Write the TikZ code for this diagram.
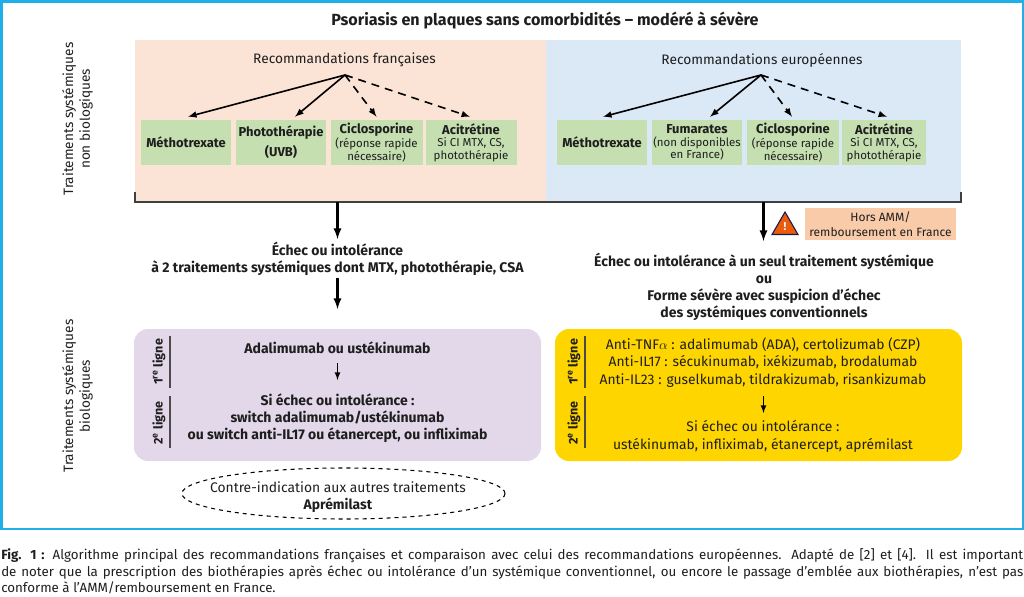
\documentclass[tikz,border=0pt]{standalone}
\usepackage{fontspec}
\setmainfont{Fira Sans}
\usetikzlibrary{shapes.geometric}
\definecolor{framec}{HTML}{1FB0EA}
\definecolor{panelfr}{HTML}{FBE3D5}
\definecolor{paneleu}{HTML}{DBE8F5}
\definecolor{greenb}{HTML}{C5DFB1}
\definecolor{horsc}{HTML}{F9CBA9}
\definecolor{lilac}{HTML}{E3D8EA}
\definecolor{yellowb}{HTML}{FFD500}
\definecolor{warnc}{HTML}{EA5B0C}
\definecolor{textc}{HTML}{1E1E1E}
\newcommand{\drugname}[1]{{\fontsize{9.7}{11}\selectfont\bfseries #1}}
\begin{document}
\begin{tikzpicture}[x=0.75pt,y=-0.75pt,text=textc]
	\def \px {0.75pt}
	\tikzstyle{panel} = [ inner sep=0, minimum height=161*\px];
	\tikzstyle{drug} = [ fill=greenb, inner sep=0, minimum height=45*\px, align=center, font={\fontsize{8.6}{9.4}\selectfont}];
	\tikzstyle{reco} = [ font={\fontsize{10.3}{12}\selectfont}];
	\tikzstyle{side} = [ rotate=90, align=center, font={\fontsize{10.2}{12.4}\selectfont}];
	\tikzstyle{rule} = [ rotate=90, font={\fontsize{9.4}{11}\selectfont\bfseries}];
	\tikzstyle{verdict} = [ align=center, font={\fontsize{10.5}{12.9}\selectfont\bfseries}];
	\tikzstyle{line} = [ fill, rounded corners=14*\px, inner sep=0, minimum height=132*\px];
	\tikzstyle{body} = [ align=center, font={\fontsize{10.4}{12.9}\selectfont}];
	\tikzstyle{big} = [ ->, >=latex, line width=1.7pt];
	\tikzstyle{small} = [ ->, >=latex, line width=1pt];
	\tikzstyle{fan} = [ ->, >=latex, line width=1.2pt];
	\tikzstyle{fandash} = [ fan, dash pattern=on 6pt off 4.5pt];

	\useasboundingbox (0,0) rectangle (1024,596);
	\draw[framec, line width=1.5pt] (1.5,1.5) rectangle (1022.5,529);

	\node[font={\fontsize{12.1}{14}\selectfont\bfseries}] (title) at (545,21) {Psoriasis en plaques sans comorbidités – modéré à sévère};

	\node[panel, fill=panelfr, minimum width=411*\px] (panelFr) at (340.5,120.5) {};
	\node[panel, fill=paneleu, minimum width=415*\px] (panelEu) at (753.5,120.5) {};

	\node[side] (sideA) at (77.5,119) {Traitements systémiques\\non biologiques};
	\node[side] (sideB) at (77.5,396) {Traitements systémiques\\biologiques};

	\node[reco] (recoFr) at (344.5,60) {Recommandations françaises};
	\node[reco] (recoEu) at (762,60) {Recommandations européennes};
	\coordinate (srcFr) at (345,75);
	\coordinate (srcEu) at (761,75);

	\node[drug, minimum width=90*\px] (drugFr1) at (186,142.5) {\drugname{Méthotrexate}};
	\node[drug, minimum width=90*\px] (drugFr2) at (281,142.5) {\drugname{Photothérapie}\\[3.4pt]\drugname{(UVB)}};
	\node[drug, minimum width=92*\px] (drugFr3) at (376.5,142.5) {\drugname{Ciclosporine}\\(réponse rapide\\nécessaire)};
	\node[drug, minimum width=91*\px] (drugFr4) at (471,142.5) {\drugname{Acitrétine}\\Si CI MTX, CS,\\photothérapie};
	\node[drug, minimum width=90*\px] (drugEu1) at (602,142.5) {\drugname{Méthotrexate}};
	\node[drug, minimum width=90*\px] (drugEu2) at (697,142.5) {\drugname{Fumarates}\\(non disponibles\\en France)};
	\node[drug, minimum width=92*\px] (drugEu3) at (793,142.5) {\drugname{Ciclosporine}\\(réponse rapide\\nécessaire)};
	\node[drug, minimum width=84*\px] (drugEu4) at (884,142.5) {\drugname{Acitrétine}\\Si CI MTX, CS,\\photothérapie};

	\foreach \zone/\i/\dx/\kind in {Fr/1/2/fan, Fr/2/14/fan, Fr/3/0/fandash, Fr/4/-1/fandash, Eu/1/1/fan, Eu/2/13/fan, Eu/3/-1/fandash, Eu/4/3/fandash} {
		\draw[\kind] (src\zone) -- ([xshift=\dx*\px, yshift=3*\px]drug\zone\i.north);
	}

	% accolade sous les deux panneaux
	\coordinate (brA) at (135,192);
	\coordinate (brB) at (961,192);
	\coordinate (brC) at (961,202);
	\draw[line width=1.1pt, textc!85] (brA) |- (brC) -- (brB);
	\coordinate (stemFr) at (337.5,201.5);
	\coordinate (stemEu) at (763.5,201.5);

	\node[verdict] (failFr) at (337.5,258.5) {Échec ou intolérance\\à 2 traitements systémiques dont MTX, photothérapie, CSA};
	\node[verdict] (failEu) at (764,287) {Échec ou intolérance à un seul traitement systémique\\ou\\Forme sévère avec suspicion d’échec\\des systémiques conventionnels};
	\coordinate (endFr) at (337.5,239);
	\coordinate (endEu) at (763.5,241);
	\draw[big] (stemFr) -- (endFr);
	\draw[big] (stemEu) -- (endEu);

	\node[regular polygon, regular polygon sides=3, draw=textc!80!blue, fill=warnc, line width=0.8pt, inner sep=0, minimum size=30*\px] (warn) at (785,227) {};
	\node[text=white, font={\fontsize{8.5}{8}\selectfont\bfseries}] (warnMark) at (785,227) {!};
	\node[fill=horsc, minimum width=151*\px, minimum height=32*\px, inner sep=0, align=center, font={\fontsize{9}{11.2}\selectfont}] (hors) at (880.5,224) {Hors AMM/\\remboursement en France};

	\node[line, fill=lilac, minimum width=407*\px] (lineFr) at (337.5,395) {};
	\node[line, fill=yellowb, minimum width=407*\px] (lineEu) at (758.5,395) {};
	\coordinate (startFr) at (337.5,278);
	\coordinate (stopFr) at (337.5,309);
	\draw[big] (startFr) -- (stopFr);

	\node[rule] (lignesFrA) at (159,362) {1\textsuperscript{re} ligne};
	\node[rule] (lignesFrB) at (159,423) {2\textsuperscript{e} ligne};
	\node[rule] (lignesEuA) at (574,362) {1\textsuperscript{re} ligne};
	\node[rule] (lignesEuB) at (574,423) {2\textsuperscript{e} ligne};
	\foreach \xx in {170,585} {
		\draw[line width=0.8pt, textc!80] (\xx,336) -- (\xx,388);
		\draw[line width=0.8pt, textc!80] (\xx,396) -- (\xx,448);
	}

	\node[verdict] (adaFr) at (337.5,348) {Adalimumab ou ustékinumab};
	\node[verdict] (nextFr) at (337.5,418) {Si échec ou intolérance :\\switch adalimumab/ustékinumab\\ou switch anti-IL17 ou étanercept, ou infliximab};
	\coordinate (arrFrA) at (337.5,363);
	\coordinate (arrFrB) at (337.5,380);
	\draw[small] (arrFrA) -- (arrFrB);

	\node[body] (adaEu) at (763,362.5) {Anti-TNF$\alpha$ : adalimumab (ADA), certolizumab (CZP)\\Anti-IL17 : sécukinumab, ixékizumab, brodalumab\\Anti-IL23 : guselkumab, tildrakizumab, risankizumab};
	\node[body] (nextEu) at (763,436.5) {Si échec ou intolérance :\\ustékinumab, infliximab, étanercept, aprémilast};
	\coordinate (arrEuA) at (763.5,396);
	\coordinate (arrEuB) at (763.5,413);
	\draw[small] (arrEuA) -- (arrEuB);

	\node[ellipse, draw, dashed, line width=0.8pt, inner sep=0, minimum width=323*\px, minimum height=51*\px] (apr) at (343.5,493.5) {};
	\node[body] (aprText) at (338,497.5) {Contre-indication aux autres traitements\\\textbf{Aprémilast}};

	\node[anchor=north west, inner sep=0, text width=1022*\px, align=justify, font={\fontsize{10}{12.4}\selectfont}] (caption) at (1,548.5) {\textbf{Fig. 1 :} Algorithme principal des recommandations françaises et comparaison avec celui des recommandations européennes. Adapté de [2] et [4]. Il est important\linebreak de noter que la prescription des biothérapies après échec ou intolérance d’un systémique conventionnel, ou encore le passage d’emblée aux biothérapies, n’est pas\linebreak conforme à l’AMM/remboursement en France.};
\end{tikzpicture}
\end{document}
